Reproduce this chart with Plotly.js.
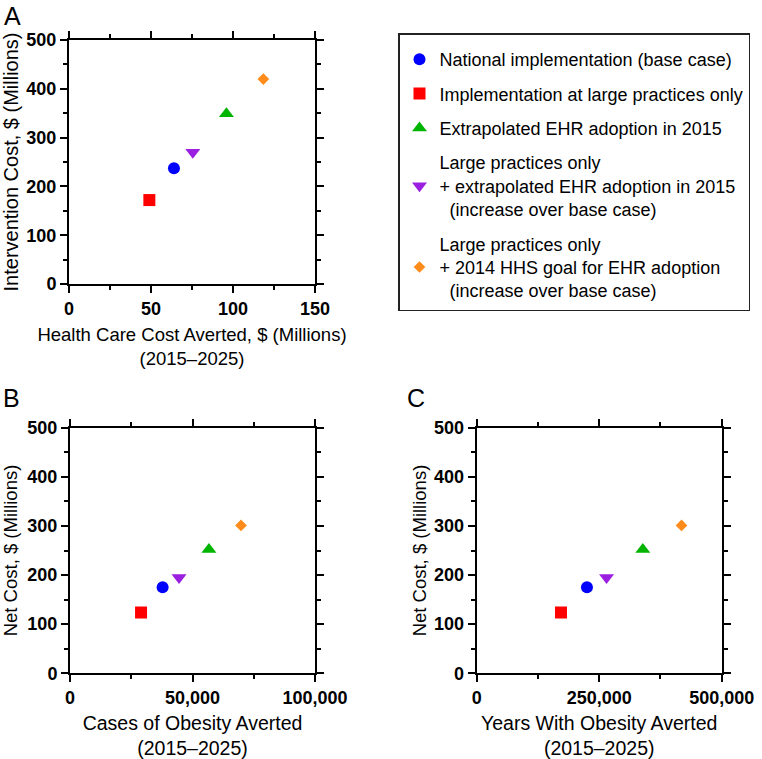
<!DOCTYPE html>
<html>
<head>
<meta charset="utf-8">
<script src="https://cdn.plot.ly/plotly-3.0.1.min.js"></script>
<style>html,body{margin:0;padding:0;background:#fff;}#chart{width:762px;height:759px;}</style>
</head>
<body>
<div id="chart"></div>
<script>
// ---- data ----
var scenarios = [
  "National implementation (base case)",
  "Implementation at large practices only",
  "Extrapolated EHR adoption in 2015",
  "Large practices only<br>+ extrapolated EHR adoption in 2015<br>\u00a0\u00a0(increase over base case)",
  "Large practices only<br>+ 2014 HHS goal for EHR adoption<br>\u00a0\u00a0(increase over base case)"
];
var healthCareCostAverted = [64, 49, 96, 75.5, 118.5];        // $ millions
var interventionCost      = [237, 172, 349, 270, 420];        // $ millions
var casesAverted          = [37800, 29000, 56700, 44500, 69800];
var yearsAverted          = [225000, 172000, 339000, 265000, 418000];
var netCost               = [175, 124, 252, 195, 301];        // $ millions

// ---- styles ----
var colors  = ["#0000ff", "#ff0000", "#00b400", "#9b1fe0", "#ff8c1a"];
var symbols = ["circle", "square", "triangle-up", "triangle-down", "diamond"];
var sizes   = [12, 12, 13, 13, 9];

var FONT = "Liberation Sans, Arial, Helvetica, sans-serif";
function f(size) { return {family: FONT, size: size, color: "black", weight: "normal"}; }

function makeTraces(xs, ys, xa, ya, showLegend) {
  return scenarios.map(function (name, i) {
    return {
      type: "scatter", mode: "markers",
      x: [xs[i]], y: [ys[i]], xaxis: xa, yaxis: ya,
      name: name, legendgroup: "g" + i, showlegend: showLegend,
      marker: {color: colors[i], symbol: symbols[i], size: sizes[i], line: {width: 0}},
      hoverinfo: "x+y+name"
    };
  });
}

var data = []
  .concat(makeTraces(healthCareCostAverted, interventionCost, "x", "y", true))
  .concat(makeTraces(casesAverted, netCost, "x2", "y2", false))
  .concat(makeTraces(yearsAverted, netCost, "x3", "y3", false));

function axis(opts) {
  var base = {
    showline: true, linecolor: "black", linewidth: 2, mirror: "ticks",
    ticks: "outside", ticklen: 7, tickwidth: 2, tickcolor: "black",
    showgrid: false, zeroline: false, fixedrange: true,
    tickfont: {family: FONT, size: 18, weight: "bold", color: "black"}
  };
  for (var k in opts) base[k] = opts[k];
  return base;
}
var minorTicks = {ticks: "outside", ticklen: 4, tickwidth: 2, tickcolor: "black"};
function minor(d) { var m = {dtick: d}; for (var k in minorTicks) m[k] = minorTicks[k]; return m; }

var W = 762, H = 759;
function px(a, b) { return [a / W, b / W]; }
function py(top, bottom) { return [1 - bottom / H, 1 - top / H]; }

var layout = {
  width: W, height: H,
  margin: {l: 0, r: 0, t: 0, b: 0},
  paper_bgcolor: "white", plot_bgcolor: "white",
  font: {family: FONT, color: "black", size: 18},
  xaxis: axis({domain: px(69, 315), anchor: "y", range: [0, 150], dtick: 50, minor: minor(25),
    title: {text: "Health Care Cost Averted, $ (Millions)<br>(2015\u20132025)", standoff: 10, font: f(18.5)}}),
  yaxis: axis({domain: py(40, 284), anchor: "x", range: [0, 500], dtick: 100, minor: minor(50),
    title: {text: "Intervention Cost, $ (Millions)", standoff: 8, font: f(20)}}),
  xaxis2: axis({domain: px(70, 315), anchor: "y2", range: [0, 100000], dtick: 50000,
    tickformat: ",", separatethousands: true, exponentformat: "none", minor: minor(25000),
    title: {text: "Cases of Obesity Averted<br>(2015\u20132025)", standoff: 12, font: f(19.5)}}),
  yaxis2: axis({domain: py(427.7, 673.3), anchor: "x2", range: [0, 500], dtick: 100, minor: minor(50),
    title: {text: "Net Cost, $ (Millions)", standoff: 8, font: f(18.5)}}),
  xaxis3: axis({domain: px(476.7, 721.7), anchor: "y3", range: [0, 500000], dtick: 250000,
    tickformat: ",", separatethousands: true, exponentformat: "none", minor: minor(125000),
    title: {text: "Years With Obesity Averted<br>(2015\u20132025)", standoff: 12, font: f(19.5)}}),
  yaxis3: axis({domain: py(427.7, 673.3), anchor: "x3", range: [0, 500], dtick: 100, minor: minor(50),
    title: {text: "Net Cost, $ (Millions)", standoff: 3, font: f(18.5)}}),
  showlegend: true,
  legend: {
    x: 398 / W, y: 1 - 33 / H, xanchor: "left", yanchor: "top",
    bgcolor: "white", bordercolor: "#222", borderwidth: 1.5,
    font: f(18),
    title: {text: "\u00a0", font: {family: FONT, size: 5, color: "white", weight: "normal"}},
    tracegroupgap: 8, valign: "middle", traceorder: "grouped"
  },
  annotations: [
    {text: "A", x: 12 / W, y: 1 - 16 / H, xref: "paper", yref: "paper", xanchor: "center", yanchor: "middle", showarrow: false, font: f(25)},
    {text: "B", x: 11.5 / W, y: 1 - 397.5 / H, xref: "paper", yref: "paper", xanchor: "center", yanchor: "middle", showarrow: false, font: f(25)},
    {text: "C", x: 416 / W, y: 1 - 397.5 / H, xref: "paper", yref: "paper", xanchor: "center", yanchor: "middle", showarrow: false, font: f(25)}
  ]
};

Plotly.newPlot("chart", data, layout, {staticPlot: true, displayModeBar: false});
</script>
</body>
</html>
